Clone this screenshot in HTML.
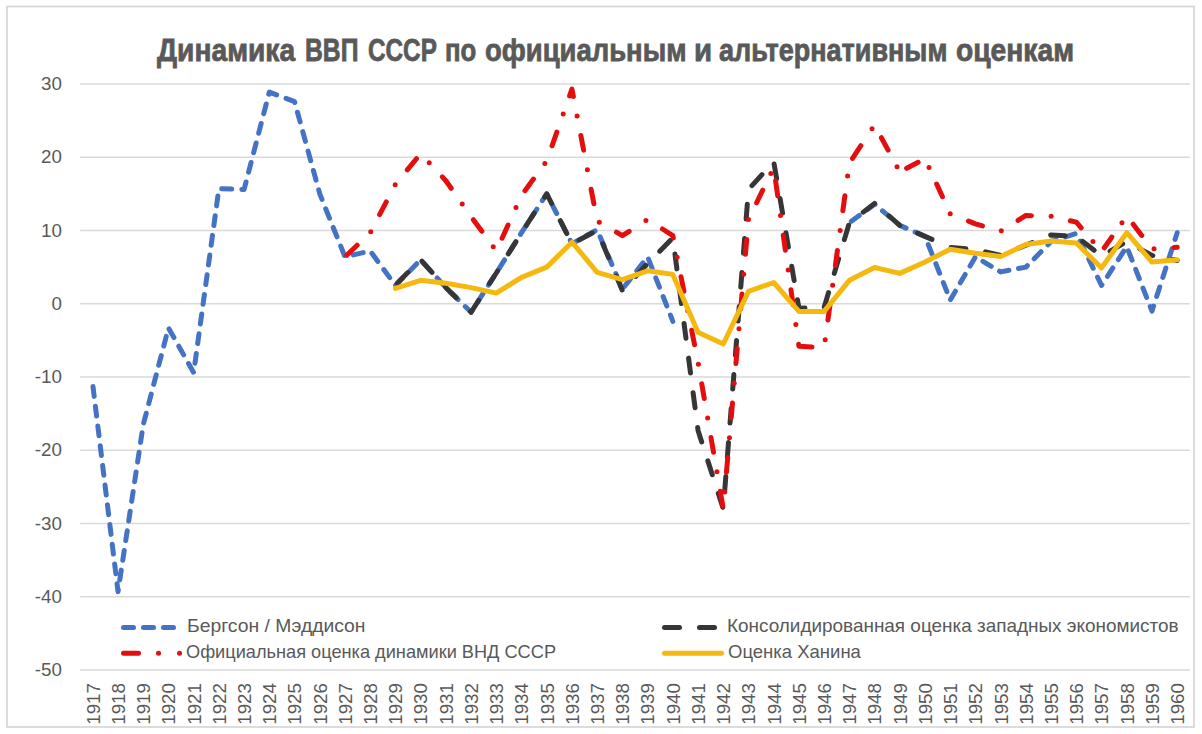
<!DOCTYPE html>
<html><head><meta charset="utf-8"><style>
html,body{margin:0;padding:0;background:#fff;}
body{width:1202px;height:734px;position:relative;overflow:hidden;font-family:"Liberation Sans",sans-serif;color:#595959;}
.t{position:absolute;white-space:nowrap;}
.tw{position:absolute;top:31.7px;font-weight:bold;-webkit-text-stroke:0.8px #595959;font-size:31.8px;line-height:36px;color:#595959;transform-origin:0 0;white-space:nowrap;}
.yl{position:absolute;right:1140px;font-size:18.8px;line-height:22px;white-space:nowrap;}
.xl{position:absolute;top:672px;font-size:18.8px;line-height:22px;white-space:nowrap;transform-origin:100% 50%;transform:rotate(-90deg);}
.xl span{}
.leg{position:absolute;font-size:18.5px;line-height:22px;white-space:nowrap;transform-origin:0 0;}
</style></head><body>
<svg width="1202" height="734" viewBox="0 0 1202 734" style="position:absolute;left:0;top:0"><rect x="0" y="0" width="1202" height="734" fill="#fff"/><rect x="7" y="6.5" width="1187" height="720.5" fill="none" stroke="#d4d4d4" stroke-width="1.6"/><line x1="80.2" y1="84.00" x2="1189.8" y2="84.00" stroke="#d9d9d9" stroke-width="1.5"/><line x1="80.2" y1="157.25" x2="1189.8" y2="157.25" stroke="#d9d9d9" stroke-width="1.5"/><line x1="80.2" y1="230.50" x2="1189.8" y2="230.50" stroke="#d9d9d9" stroke-width="1.5"/><line x1="80.2" y1="303.75" x2="1189.8" y2="303.75" stroke="#d9d9d9" stroke-width="1.5"/><line x1="80.2" y1="377.00" x2="1189.8" y2="377.00" stroke="#d9d9d9" stroke-width="1.5"/><line x1="80.2" y1="450.25" x2="1189.8" y2="450.25" stroke="#d9d9d9" stroke-width="1.5"/><line x1="80.2" y1="523.50" x2="1189.8" y2="523.50" stroke="#d9d9d9" stroke-width="1.5"/><line x1="80.2" y1="596.75" x2="1189.8" y2="596.75" stroke="#d9d9d9" stroke-width="1.5"/><line x1="80.2" y1="670.00" x2="1189.8" y2="670.00" stroke="#d9d9d9" stroke-width="1.5"/><path d="M92.99,386.54 L94.19,396.39 M95.40,406.25 L96.60,416.10 M97.80,425.96 L99.01,435.82 M100.21,445.67 L101.41,455.53 M102.62,465.38 L103.82,475.24 M105.02,485.09 L106.23,494.95 M107.43,504.81 L108.63,514.66 M109.83,524.52 L111.04,534.37 M112.24,544.23 L113.44,554.09 M114.65,563.94 L115.85,573.80 M117.05,583.65 L118.03,591.62 L118.31,589.74 M119.79,579.92 L121.28,570.11 M122.76,560.29 L124.24,550.47 M125.72,540.65 L127.21,530.84 M128.69,521.02 L130.17,511.20 M131.65,501.38 L133.14,491.56 M134.62,481.75 L136.10,471.93 M137.58,462.11 L139.07,452.29 M140.55,442.48 L142.03,432.66 M143.70,422.88 L146.20,413.27 M148.71,403.66 L151.22,394.06 M153.72,384.45 L156.23,374.84 M158.73,365.23 L161.24,355.62 M163.74,346.02 L166.25,336.41 M169.03,328.93 L173.91,337.58 M178.79,346.23 L183.67,354.87 M188.55,363.52 L193.43,372.17 M194.96,363.27 L196.31,353.43 M197.66,343.59 L199.01,333.76 M200.36,323.92 L201.71,314.08 M203.06,304.25 L204.41,294.41 M205.76,284.57 L207.11,274.73 M208.46,264.90 L209.80,255.06 M211.15,245.22 L212.50,235.39 M213.85,225.55 L215.20,215.71 M216.55,205.88 L217.91,195.95 M221.70,188.83 L231.76,189.12 M241.82,189.41 L244.12,189.48 L246.06,181.96 M248.59,172.21 L251.11,162.47 M253.63,152.72 L256.16,142.98 M258.68,133.23 L261.20,123.49 M263.72,113.74 L266.25,103.99 M268.77,94.25 L269.34,92.06 L276.64,94.81 M286.05,98.37 L294.55,101.58 L294.81,102.53 M297.47,112.24 L300.12,121.95 M302.77,131.66 L305.43,141.37 M308.08,151.08 L310.73,160.79 M313.39,170.50 L316.04,180.21 M318.69,189.92 L319.77,193.88 L321.99,199.42 M325.73,208.76 L329.47,218.11 M333.22,227.45 L336.96,236.80 M340.70,246.15 L344.44,255.49 M353.35,254.93 L363.16,252.65 M371.88,253.29 L377.83,261.41 M383.77,269.53 L389.70,277.62 M395.66,285.20 L402.69,278.05 M409.73,270.90 L416.76,263.75 M423.66,263.13 L430.39,270.56 M437.13,277.99 L443.86,285.42 M450.91,292.55 L458.10,299.54 M465.29,306.54 L471.08,312.17 L472.14,310.54 M477.56,302.10 L482.99,293.67 M488.42,285.23 L493.85,276.80 M499.21,268.33 L504.54,259.83 M509.86,251.33 L515.18,242.83 M520.50,234.32 L521.52,232.70 L525.94,225.90 M531.40,217.49 L536.86,209.07 M542.33,200.66 L546.74,193.88 L547.61,195.60 M552.14,204.55 L556.67,213.50 M561.20,222.44 L565.73,231.39 M570.26,240.34 L571.95,243.69 L577.45,240.65 M586.23,235.80 L595.01,230.96 M600.13,236.73 L604.05,245.96 M607.98,255.19 L611.90,264.42 M615.82,273.65 L619.75,282.88 M624.41,286.52 L630.59,278.63 M636.77,270.73 L642.95,262.83 M648.51,259.16 L652.16,268.50 M655.81,277.84 L659.47,287.18 M663.12,296.52 L666.78,305.86 M670.42,315.18 L672.83,321.33" fill="none" stroke="#4472C4" stroke-width="5" stroke-linecap="round" stroke-linejoin="round"/><path d="M851.33,221.35 L859.22,215.50 M867.11,209.66 L874.57,204.13 L874.98,204.47 M882.49,210.80 L890.00,217.12 M897.51,223.45 L899.79,225.37 L906.06,228.10 M915.06,232.03 L924.06,235.95 M928.29,244.64 L932.06,254.17 M935.83,263.70 L939.60,273.23 M943.32,282.62 L946.88,291.63 M950.53,299.57 L955.41,291.20 M960.30,282.83 L965.18,274.46 M970.07,266.09 L974.95,257.72 M982.93,261.33 L991.25,266.28 M999.58,271.24 L1000.66,271.89 L1008.95,270.32 M1018.46,268.53 L1025.88,267.12 L1027.36,265.62 M1034.16,258.71 L1041.03,251.72 M1047.90,244.74 L1051.10,241.49 L1056.09,239.89 M1065.47,236.90 L1075.00,233.85 M1080.08,241.18 L1084.44,250.18 M1088.80,259.18 L1093.17,268.18 M1097.53,277.17 L1101.54,285.44 L1101.98,284.75 M1107.43,276.37 L1112.88,267.98 M1118.32,259.60 L1123.77,251.21 M1128.40,250.83 L1132.05,260.14 M1135.69,269.45 L1139.33,278.76 M1142.98,288.08 L1146.62,297.39 M1150.26,306.70 L1151.97,311.07 L1153.60,306.03 M1156.66,296.51 L1159.72,286.99 M1162.79,277.47 L1165.85,267.95 M1168.91,258.43 L1171.97,248.91 M1175.04,239.39 L1177.19,232.70" fill="none" stroke="#4472C4" stroke-width="5" stroke-linecap="round" stroke-linejoin="round"/><path d="M397.20,283.16 L407.82,272.57 M421.92,261.21 L431.99,272.33 M445.42,287.15 L445.86,287.63 L456.14,297.64 M470.48,311.58 L471.08,312.17 L478.74,300.27 M489.56,283.45 L496.30,272.99 L497.66,270.82 M508.26,253.88 L515.94,241.62 M526.30,225.34 L534.18,213.20 M544.69,197.02 L546.74,193.88 L551.58,203.44 M560.29,220.65 L566.83,233.57 M579.00,240.00 L592.25,233.07 M602.76,243.82 L608.57,257.65 M616.31,276.09 L622.12,289.92 M635.54,276.44 L645.76,265.45 M659.73,251.14 L670.24,240.45 M674.95,254.00 L676.89,268.88 M679.49,288.71 L681.43,303.58 M684.03,323.41 L685.98,338.29 M688.57,358.12 L690.52,372.99 M693.12,392.82 L695.06,407.69 M697.66,427.52 L698.05,430.47 L701.73,441.92 M707.83,460.87 L712.30,474.79 M718.27,493.34 L722.75,507.25 M724.67,491.10 L725.82,476.53 M727.35,457.10 L728.50,442.53 M730.03,423.10 L731.18,408.53 M732.72,389.11 L733.87,374.54 M735.40,355.11 L736.55,340.54 M738.09,321.11 L739.24,306.54 M740.77,287.12 L741.92,272.55 M743.46,253.12 L744.61,238.55 M746.15,219.07 L747.32,204.18 M751.95,185.65 L761.98,174.58 M774.12,164.07 L776.65,178.78 M780.03,198.41 L782.56,213.13 M785.93,232.69 L788.40,247.06 M791.70,266.22 L794.17,280.59 M797.47,299.75 L798.92,308.14 L804.98,307.97 M824.25,307.03 L828.56,292.58 M834.30,273.33 L838.60,258.88 M844.34,239.63 L848.65,225.19 M863.22,212.14 L874.57,203.40 L874.59,203.41 M889.01,215.98 L899.79,225.37 L899.83,225.39 M917.64,233.15 L925.01,236.36 L931.96,239.39 M951.03,247.42 L965.90,248.71 M985.50,251.88 L1000.04,255.26 M1018.51,248.15 L1025.88,245.15 L1032.34,242.52 M1050.71,235.05 L1051.10,234.89 L1065.15,235.71 M1082.73,241.39 L1094.14,250.33 M1110.12,251.15 L1122.65,243.87 M1139.61,248.58 L1151.97,255.41 L1152.84,255.58 M1172.44,259.57 L1177.19,260.53" fill="none" stroke="#363636" stroke-width="5" stroke-linecap="round" stroke-linejoin="round"/><path d="M346.73,255.21 L357.14,245.23 M379.62,214.65 L386.30,201.86 M407.29,169.88 L416.44,158.72 M442.33,176.89 L445.86,180.69 L451.17,188.24 M473.34,219.67 L481.87,231.31 M502.09,238.22 L508.04,225.08 M524.95,190.65 L533.47,179.02 M552.05,145.80 L556.83,132.19 M569.58,95.90 L571.95,89.13 L573.36,96.47 M580.83,135.51 L583.63,150.15 M591.09,189.20 L593.89,203.84 M616.46,232.18 L622.39,235.63 L629.17,231.30 M662.46,229.00 L672.83,235.63 L673.30,238.01 M681.00,276.72 L683.91,291.31 M691.65,330.21 L694.55,344.80 M701.74,383.81 L704.26,398.47 M710.99,437.56 L713.52,452.22 M720.25,491.31 L722.77,505.97 M726.45,472.24 L727.75,457.42 M731.19,417.90 L732.48,403.08 M735.93,363.47 L737.23,348.58 M740.69,308.88 L741.99,293.99 M745.45,254.29 L746.75,239.40 M756.60,202.78 L762.70,190.19 M775.58,180.84 L777.68,195.69 M783.27,235.30 L785.36,250.15 M790.95,289.76 L793.05,304.61 M798.64,344.30 L798.92,346.24 L811.99,346.99 M827.92,319.98 L829.96,305.06 M835.39,265.30 L837.43,250.40 M842.86,210.66 L844.89,195.76 M852.50,158.35 L860.87,145.71 M881.40,137.71 L888.10,150.17 M906.63,168.32 L918.16,162.30 M936.65,184.07 L942.46,196.74 M968.48,221.08 L975.45,223.91 L982.44,225.94 M1018.03,220.39 L1025.88,215.48 L1031.42,215.64 M1070.34,220.69 L1076.32,222.08 L1081.17,227.78 M1104.31,247.79 L1111.88,237.02 M1133.15,224.21 L1141.74,235.44 M1173.98,247.53 L1177.19,247.35" fill="none" stroke="#E50E0E" stroke-width="5" stroke-linecap="round" stroke-linejoin="round"/><circle cx="370.73" cy="231.70" r="2.5" fill="#E50E0E"/><circle cx="395.19" cy="184.81" r="2.5" fill="#E50E0E"/><circle cx="429.22" cy="162.81" r="2.5" fill="#E50E0E"/><circle cx="462.23" cy="203.98" r="2.5" fill="#E50E0E"/><circle cx="493.23" cy="246.82" r="2.5" fill="#E50E0E"/><circle cx="515.98" cy="207.57" r="2.5" fill="#E50E0E"/><circle cx="544.84" cy="163.50" r="2.5" fill="#E50E0E"/><circle cx="563.20" cy="114.04" r="2.5" fill="#E50E0E"/><circle cx="577.09" cy="115.99" r="2.5" fill="#E50E0E"/><circle cx="587.36" cy="169.68" r="2.5" fill="#E50E0E"/><circle cx="599.27" cy="222.20" r="2.5" fill="#E50E0E"/><circle cx="645.92" cy="220.59" r="2.5" fill="#E50E0E"/><circle cx="677.13" cy="257.27" r="2.5" fill="#E50E0E"/><circle cx="687.78" cy="310.76" r="2.5" fill="#E50E0E"/><circle cx="698.37" cy="364.26" r="2.5" fill="#E50E0E"/><circle cx="707.63" cy="418.02" r="2.5" fill="#E50E0E"/><circle cx="716.88" cy="471.77" r="2.5" fill="#E50E0E"/><circle cx="724.73" cy="492.00" r="2.5" fill="#E50E0E"/><circle cx="729.47" cy="437.66" r="2.5" fill="#E50E0E"/><circle cx="734.20" cy="383.32" r="2.5" fill="#E50E0E"/><circle cx="738.96" cy="328.73" r="2.5" fill="#E50E0E"/><circle cx="743.72" cy="274.14" r="2.5" fill="#E50E0E"/><circle cx="748.48" cy="219.56" r="2.5" fill="#E50E0E"/><circle cx="770.85" cy="173.38" r="2.5" fill="#E50E0E"/><circle cx="780.47" cy="215.50" r="2.5" fill="#E50E0E"/><circle cx="788.16" cy="269.96" r="2.5" fill="#E50E0E"/><circle cx="795.84" cy="324.42" r="2.5" fill="#E50E0E"/><circle cx="825.21" cy="339.86" r="2.5" fill="#E50E0E"/><circle cx="832.68" cy="285.17" r="2.5" fill="#E50E0E"/><circle cx="840.14" cy="230.53" r="2.5" fill="#E50E0E"/><circle cx="847.61" cy="175.90" r="2.5" fill="#E50E0E"/><circle cx="872.03" cy="128.86" r="2.5" fill="#E50E0E"/><circle cx="897.05" cy="166.80" r="2.5" fill="#E50E0E"/><circle cx="929.02" cy="167.45" r="2.5" fill="#E50E0E"/><circle cx="950.22" cy="213.64" r="2.5" fill="#E50E0E"/><circle cx="1001.30" cy="230.84" r="2.5" fill="#E50E0E"/><circle cx="1051.14" cy="216.22" r="2.5" fill="#E50E0E"/><circle cx="1092.93" cy="241.62" r="2.5" fill="#E50E0E"/><circle cx="1121.97" cy="222.66" r="2.5" fill="#E50E0E"/><circle cx="1154.01" cy="248.69" r="2.5" fill="#E50E0E"/><path d="M395.4,288.4 L420.6,280.3 L445.9,283.2 L471.1,287.6 L496.3,293.1 L521.5,277.4 L546.7,267.1 L572.0,242.2 L597.2,272.3 L622.4,279.6 L647.6,270.8 L672.8,274.4 L698.0,332.3 L723.3,344.0 L748.5,291.3 L773.7,282.5 L798.9,311.4 L824.1,311.4 L849.4,280.3 L874.6,267.5 L899.8,273.4 L925.0,262.0 L950.2,249.2 L975.4,253.2 L1000.7,256.5 L1025.9,244.4 L1051.1,241.1 L1076.3,243.0 L1101.5,267.9 L1126.8,232.7 L1152.0,262.0 L1177.2,259.8" fill="none" stroke="#F4B80F" stroke-width="5" stroke-linecap="round" stroke-linejoin="round"/><path d="M123.5,627.4 L133.5,627.4" fill="none" stroke="#4472C4" stroke-width="5" stroke-linecap="round"/><path d="M143.5,627.4 L153.5,627.4" fill="none" stroke="#4472C4" stroke-width="5" stroke-linecap="round"/><path d="M163.5,627.4 L173.5,627.4" fill="none" stroke="#4472C4" stroke-width="5" stroke-linecap="round"/><path d="M123.5,653.3 L138.5,653.3" fill="none" stroke="#E50E0E" stroke-width="5" stroke-linecap="round"/><path d="M158.5,653.3 L158.51,653.3" fill="none" stroke="#E50E0E" stroke-width="5" stroke-linecap="round"/><path d="M179.5,653.3 L179.51,653.3" fill="none" stroke="#E50E0E" stroke-width="5" stroke-linecap="round"/><path d="M664.5,627.4 L679.5,627.4" fill="none" stroke="#363636" stroke-width="5" stroke-linecap="round"/><path d="M699.5,627.4 L714.5,627.4" fill="none" stroke="#363636" stroke-width="5" stroke-linecap="round"/><path d="M664.5,653.3 L721.5,653.3" fill="none" stroke="#F4B80F" stroke-width="5" stroke-linecap="round"/></svg>
<div class="tw" style="left:157.1px;transform:scaleX(0.887)">Динамика</div><div class="tw" style="left:304.9px;transform:scaleX(0.777)">ВВП</div><div class="tw" style="left:367.8px;transform:scaleX(0.764)">СССР</div><div class="tw" style="left:444.9px;transform:scaleX(0.811)">по</div><div class="tw" style="left:485.2px;transform:scaleX(0.864)">официальным</div><div class="tw" style="left:694.0px;transform:scaleX(0.927)">и</div><div class="tw" style="left:719.2px;transform:scaleX(0.850)">альтернативным</div><div class="tw" style="left:956.1px;transform:scaleX(0.888)">оценкам</div>
<div class="yl" style="top:73.0px">30</div><div class="yl" style="top:146.2px">20</div><div class="yl" style="top:219.5px">10</div><div class="yl" style="top:292.8px">0</div><div class="yl" style="top:366.0px">-10</div><div class="yl" style="top:439.2px">-20</div><div class="yl" style="top:512.5px">-30</div><div class="yl" style="top:585.8px">-40</div><div class="yl" style="top:659.0px">-50</div><div class="xl" style="right:1108.6px">1917</div><div class="xl" style="right:1083.4px">1918</div><div class="xl" style="right:1058.2px">1919</div><div class="xl" style="right:1032.9px">1920</div><div class="xl" style="right:1007.7px">1921</div><div class="xl" style="right:982.5px">1922</div><div class="xl" style="right:957.3px">1923</div><div class="xl" style="right:932.1px">1924</div><div class="xl" style="right:906.8px">1925</div><div class="xl" style="right:881.6px">1926</div><div class="xl" style="right:856.4px">1927</div><div class="xl" style="right:831.2px">1928</div><div class="xl" style="right:806.0px">1929</div><div class="xl" style="right:780.8px">1930</div><div class="xl" style="right:755.5px">1931</div><div class="xl" style="right:730.3px">1932</div><div class="xl" style="right:705.1px">1933</div><div class="xl" style="right:679.9px">1934</div><div class="xl" style="right:654.7px">1935</div><div class="xl" style="right:629.4px">1936</div><div class="xl" style="right:604.2px">1937</div><div class="xl" style="right:579.0px">1938</div><div class="xl" style="right:553.8px">1939</div><div class="xl" style="right:528.6px">1940</div><div class="xl" style="right:503.4px">1941</div><div class="xl" style="right:478.1px">1942</div><div class="xl" style="right:452.9px">1943</div><div class="xl" style="right:427.7px">1944</div><div class="xl" style="right:402.5px">1945</div><div class="xl" style="right:377.3px">1946</div><div class="xl" style="right:352.0px">1947</div><div class="xl" style="right:326.8px">1948</div><div class="xl" style="right:301.6px">1949</div><div class="xl" style="right:276.4px">1950</div><div class="xl" style="right:251.2px">1951</div><div class="xl" style="right:226.0px">1952</div><div class="xl" style="right:200.7px">1953</div><div class="xl" style="right:175.5px">1954</div><div class="xl" style="right:150.3px">1955</div><div class="xl" style="right:125.1px">1956</div><div class="xl" style="right:99.9px">1957</div><div class="xl" style="right:74.6px">1958</div><div class="xl" style="right:49.4px">1959</div><div class="xl" style="right:24.2px">1960</div>
<div class="leg" id="l1" style="left:186.6px;top:614.6px;transform:scaleX(1.044)">Бергсон / Мэддисон</div>
<div class="leg" id="l2" style="left:186px;top:641.2px;transform:scaleX(0.983)">Официальная оценка динамики ВНД СССР</div>
<div class="leg" id="l3" style="left:727.4px;top:614.6px;transform:scaleX(1.023)">Консолидированная оценка западных экономистов</div>
<div class="leg" id="l4" style="left:728px;top:641.2px">Оценка Ханина</div>
</body></html>
